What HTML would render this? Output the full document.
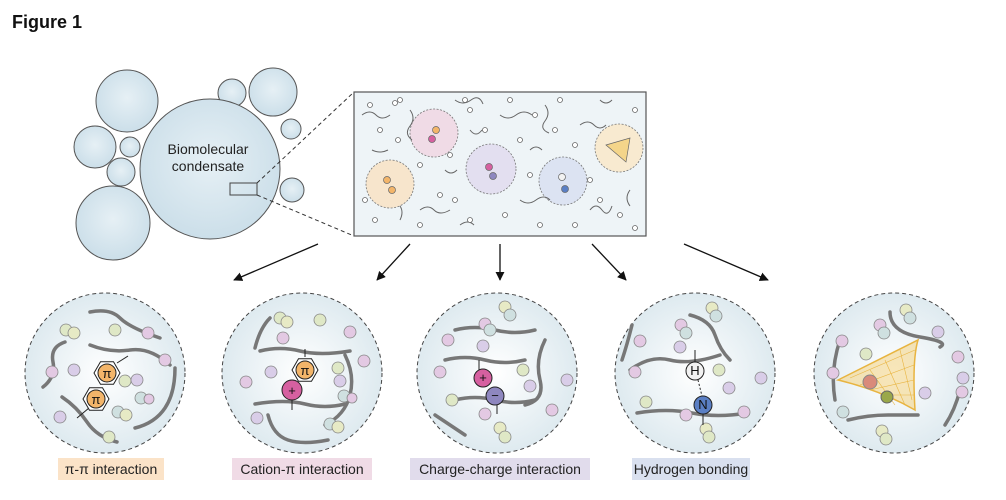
<!DOCTYPE html>
<html><head><meta charset="utf-8"><style>
html,body{margin:0;padding:0;background:#fff;width:1006px;height:500px;overflow:hidden}
svg text{font-family:"Liberation Sans",sans-serif}
</style></head><body>
<svg width="1006" height="500" viewBox="0 0 1006 500" xmlns="http://www.w3.org/2000/svg">
<defs>
<radialGradient id="bl" cx="50%" cy="45%" r="60%"><stop offset="0" stop-color="#e6f0f5"/><stop offset="1" stop-color="#c9dde8"/></radialGradient>
<radialGradient id="bc" cx="50%" cy="50%" r="55%"><stop offset="0" stop-color="#ffffff"/><stop offset="1" stop-color="#dbe8ee"/></radialGradient>
<marker id="ar" viewBox="0 0 10 10" refX="9" refY="5" markerWidth="7" markerHeight="7" orient="auto"><path d="M0,0L10,5L0,10z" fill="#111"/></marker>
</defs>
<text x="12" y="28" font-size="18" font-weight="bold" fill="#111">Figure 1</text>
<g fill="url(#bl)" stroke="#555" stroke-width="1">
<circle cx="127" cy="101" r="31"/><circle cx="232" cy="93" r="14"/><circle cx="273" cy="92" r="24"/>
<circle cx="291" cy="129" r="10"/><circle cx="95" cy="147" r="21"/><circle cx="130" cy="147" r="10"/>
<circle cx="121" cy="172" r="14"/><circle cx="113" cy="223" r="37"/><circle cx="292" cy="190" r="12"/>
<circle cx="210" cy="169" r="70"/>
</g>
<text x="208" y="154" font-size="14" text-anchor="middle" fill="#222">Biomolecular</text>
<text x="208" y="171" font-size="14" text-anchor="middle" fill="#222">condensate</text>
<rect x="230" y="183" width="27" height="12" fill="none" stroke="#444"/>
<g stroke="#333" stroke-dasharray="4,3" fill="none"><line x1="257" y1="183" x2="354" y2="92"/><line x1="257" y1="195" x2="354" y2="236"/></g>
<rect x="354" y="92" width="292" height="144" fill="#eef4f7" stroke="#555" stroke-width="1.2"/>
<g stroke="#777" stroke-dasharray="2,1.5" stroke-width="0.8">
<circle cx="390" cy="184" r="24" fill="#f7e5cc"/><circle cx="434" cy="133" r="24" fill="#f0dbe6"/>
<circle cx="491" cy="169" r="25" fill="#e3dff0"/><circle cx="563" cy="181" r="24" fill="#dce3f2"/>
<circle cx="619" cy="148" r="24" fill="#f8ead0"/>
</g>
<g stroke="#666" stroke-width="0.7">
<circle cx="387" cy="180" r="3.5" fill="#f3b56a"/><circle cx="392" cy="190" r="3.5" fill="#f3b56a"/>
<circle cx="436" cy="130" r="3.5" fill="#f3b56a"/><circle cx="432" cy="139" r="3.5" fill="#d660a0"/>
<circle cx="489" cy="167" r="3.5" fill="#d660a0"/><circle cx="493" cy="176" r="3.5" fill="#8e87bf"/>
<circle cx="562" cy="177" r="3.5" fill="#f2f2f2"/><circle cx="565" cy="189" r="3.5" fill="#5a7fc4"/>
<path d="M606,145 L630,138 L626,162Z" fill="#f4d58a"/>
</g>
<g fill="none" stroke="#666" stroke-width="1">
<path d="M362,115q8,-6 14,0t14,0"/><path d="M410,110q6,8 0,16t2,14"/><path d="M455,100q8,6 16,0t12,4"/><path d="M500,115q8,6 16,0t16,0"/><path d="M545,105q6,8 0,16t4,12"/><path d="M580,125q8,-6 14,0t12,0"/><path d="M372,150q8,4 16,0"/><path d="M420,210q8,-6 14,0t16,0"/><path d="M470,130q6,8 12,0"/><path d="M520,200q8,6 16,0t14,0"/><path d="M590,210q6,-8 12,0t10,-4"/><path d="M400,220q4,-8 0,-14"/><path d="M630,190q-6,8 0,16"/><path d="M460,225q8,-6 14,0"/><path d="M600,100q6,6 12,0"/><path d="M530,150q6,-6 12,0"/><path d="M445,170q6,6 12,0"/>
</g>
<g fill="#fff" stroke="#666" stroke-width="0.8">
<circle cx="370" cy="105" r="2.5"/><circle cx="395" cy="103" r="2.5"/><circle cx="400" cy="100" r="2.5"/><circle cx="380" cy="130" r="2.5"/><circle cx="398" cy="140" r="2.5"/><circle cx="420" cy="165" r="2.5"/><circle cx="465" cy="100" r="2.5"/><circle cx="470" cy="110" r="2.5"/><circle cx="485" cy="130" r="2.5"/><circle cx="510" cy="100" r="2.5"/><circle cx="520" cy="140" r="2.5"/><circle cx="535" cy="115" r="2.5"/><circle cx="555" cy="130" r="2.5"/><circle cx="560" cy="100" r="2.5"/><circle cx="575" cy="145" r="2.5"/><circle cx="590" cy="180" r="2.5"/><circle cx="600" cy="200" r="2.5"/><circle cx="620" cy="215" r="2.5"/><circle cx="635" cy="110" r="2.5"/><circle cx="455" cy="200" r="2.5"/><circle cx="470" cy="220" r="2.5"/><circle cx="505" cy="215" r="2.5"/><circle cx="540" cy="225" r="2.5"/><circle cx="420" cy="225" r="2.5"/><circle cx="365" cy="200" r="2.5"/><circle cx="375" cy="220" r="2.5"/><circle cx="440" cy="195" r="2.5"/><circle cx="530" cy="175" r="2.5"/><circle cx="575" cy="225" r="2.5"/><circle cx="635" cy="228" r="2.5"/><circle cx="450" cy="155" r="2.5"/>
</g>
<g stroke="#111" stroke-width="1.3" marker-end="url(#ar)">
<line x1="318" y1="244" x2="234" y2="280"/><line x1="410" y1="244" x2="377" y2="280"/><line x1="500" y1="244" x2="500" y2="280"/><line x1="592" y1="244" x2="626" y2="280"/><line x1="684" y1="244" x2="768" y2="280"/>
</g>
<g fill="url(#bc)" stroke="#444" stroke-dasharray="4,3" stroke-width="1">
<circle cx="105" cy="373" r="80"/><circle cx="302" cy="373" r="80"/><circle cx="497" cy="373" r="80"/><circle cx="695" cy="373" r="80"/><circle cx="894" cy="373" r="80"/>
</g>
<g fill="none" stroke="#777" stroke-width="3.5" stroke-linecap="round">
<path d="M90,312q20,-4 30,6t40,20"/><path d="M90,345q20,8 40,5t40,15"/><path d="M65,342q-15,5 -12,20t-10,25"/><path d="M62,397q15,10 25,25t30,20"/><path d="M135,428q20,-5 30,-20t10,-40"/>
<path d="M270,318q-10,10 -15,30"/><path d="M260,351q20,-5 40,0t50,0"/><path d="M255,404q30,-5 50,0t40,0"/><path d="M268,415q5,20 20,25t40,0"/><path d="M345,355q10,20 5,40t-25,30"/>
<path d="M455,330q20,-5 40,0t40,0"/><path d="M445,360q20,-5 40,0t40,0"/><path d="M455,400q20,-5 40,0t40,0"/><path d="M435,415q15,10 30,20"/><path d="M545,340q-10,20 -5,40t-15,25"/>
<path d="M632,325q-5,20 -10,35"/><path d="M630,370q20,-15 40,-10t50,-5"/><path d="M637,413q30,-5 55,0t55,0"/><path d="M690,315q20,5 25,20t15,25"/>
<path d="M840,340q-10,30 -5,60"/><path d="M848,420q20,-5 40,-5t30,0"/><path d="M960,390q-5,20 -15,35"/><path d="M890,312q0,20 30,25t20,10"/>
</g>
<g stroke="#888" stroke-width="0.8">
<circle cx="66" cy="330" r="6" fill="#dfe8c6"/><circle cx="74" cy="333" r="6" fill="#e7eac5"/><circle cx="115" cy="330" r="6" fill="#dfe8c6"/><circle cx="148" cy="333" r="6" fill="#e3c9e3"/><circle cx="52" cy="372" r="6" fill="#e3c9e3"/><circle cx="74" cy="370" r="6" fill="#d9cde8"/><circle cx="125" cy="381" r="6" fill="#dfe8c6"/><circle cx="137" cy="380" r="6" fill="#d9cde8"/><circle cx="141" cy="398" r="6" fill="#cfe0e0"/><circle cx="149" cy="399" r="5" fill="#e3c9e3"/><circle cx="118" cy="412" r="6" fill="#cfe0e0"/><circle cx="126" cy="415" r="6" fill="#e7eac5"/><circle cx="60" cy="417" r="6" fill="#d9cde8"/><circle cx="109" cy="437" r="6" fill="#dfe8c6"/><circle cx="165" cy="360" r="6" fill="#e3c9e3"/>
<circle cx="280" cy="318" r="6" fill="#dfe8c6"/><circle cx="287" cy="322" r="6" fill="#e7eac5"/><circle cx="320" cy="320" r="6" fill="#dfe8c6"/><circle cx="283" cy="338" r="6" fill="#e3c9e3"/><circle cx="350" cy="332" r="6" fill="#e3c9e3"/><circle cx="246" cy="382" r="6" fill="#e3c9e3"/><circle cx="271" cy="372" r="6" fill="#d9cde8"/><circle cx="338" cy="368" r="6" fill="#dfe8c6"/><circle cx="340" cy="381" r="6" fill="#d9cde8"/><circle cx="344" cy="396" r="6" fill="#cfe0e0"/><circle cx="352" cy="398" r="5" fill="#e3c9e3"/><circle cx="257" cy="418" r="6" fill="#d9cde8"/><circle cx="330" cy="424" r="6" fill="#cfe0e0"/><circle cx="338" cy="427" r="6" fill="#e7eac5"/><circle cx="364" cy="361" r="6" fill="#e3c9e3"/>
<circle cx="505" cy="307" r="6" fill="#e7eac5"/><circle cx="510" cy="315" r="6" fill="#cfe0e0"/><circle cx="485" cy="324" r="6" fill="#e3c9e3"/><circle cx="490" cy="330" r="6" fill="#cfe0e0"/><circle cx="448" cy="340" r="6" fill="#e3c9e3"/><circle cx="483" cy="346" r="6" fill="#d9cde8"/><circle cx="440" cy="372" r="6" fill="#e3c9e3"/><circle cx="523" cy="370" r="6" fill="#dfe8c6"/><circle cx="530" cy="386" r="6" fill="#d9cde8"/><circle cx="567" cy="380" r="6" fill="#d9cde8"/><circle cx="452" cy="400" r="6" fill="#dfe8c6"/><circle cx="485" cy="414" r="6" fill="#e3c9e3"/><circle cx="500" cy="428" r="6" fill="#e7eac5"/><circle cx="505" cy="437" r="6" fill="#dfe8c6"/><circle cx="552" cy="410" r="6" fill="#e3c9e3"/>
<circle cx="712" cy="308" r="6" fill="#e7eac5"/><circle cx="716" cy="316" r="6" fill="#cfe0e0"/><circle cx="681" cy="325" r="6" fill="#e3c9e3"/><circle cx="686" cy="333" r="6" fill="#cfe0e0"/><circle cx="640" cy="341" r="6" fill="#e3c9e3"/><circle cx="680" cy="347" r="6" fill="#d9cde8"/><circle cx="635" cy="372" r="6" fill="#e3c9e3"/><circle cx="719" cy="370" r="6" fill="#dfe8c6"/><circle cx="729" cy="388" r="6" fill="#d9cde8"/><circle cx="761" cy="378" r="6" fill="#d9cde8"/><circle cx="646" cy="402" r="6" fill="#dfe8c6"/><circle cx="686" cy="415" r="6" fill="#e3c9e3"/><circle cx="706" cy="429" r="6" fill="#e7eac5"/><circle cx="709" cy="437" r="6" fill="#dfe8c6"/><circle cx="744" cy="412" r="6" fill="#e3c9e3"/>
<circle cx="906" cy="310" r="6" fill="#e7eac5"/><circle cx="910" cy="318" r="6" fill="#cfe0e0"/><circle cx="880" cy="325" r="6" fill="#e3c9e3"/><circle cx="884" cy="333" r="6" fill="#cfe0e0"/><circle cx="938" cy="332" r="6" fill="#d9cde8"/><circle cx="842" cy="341" r="6" fill="#e3c9e3"/><circle cx="866" cy="354" r="6" fill="#dfe8c6"/><circle cx="958" cy="357" r="6" fill="#e3c9e3"/><circle cx="833" cy="373" r="6" fill="#e3c9e3"/><circle cx="963" cy="378" r="6" fill="#d9cde8"/><circle cx="962" cy="392" r="6" fill="#e3c9e3"/><circle cx="925" cy="393" r="6" fill="#d9cde8"/><circle cx="843" cy="412" r="6" fill="#cfe0e0"/><circle cx="882" cy="431" r="6" fill="#e7eac5"/><circle cx="886" cy="439" r="6" fill="#dfe8c6"/>
</g>
<path d="M838,380 L918,340 Q912,360 915,410 Q880,390 838,380Z" fill="#f4d58a" fill-opacity="0.6" stroke="#e8b440" stroke-width="1.5"/>
<g stroke="#e8b440" stroke-width="0.6"><line x1="850" y1="378" x2="915" y2="350"/><line x1="860" y1="385" x2="914" y2="365"/><line x1="870" y1="390" x2="914" y2="380"/><line x1="880" y1="395" x2="915" y2="395"/><line x1="870" y1="370" x2="895" y2="405"/><line x1="885" y1="360" x2="905" y2="405"/><line x1="900" y1="350" x2="912" y2="400"/></g>
<circle cx="870" cy="382" r="7" fill="#d98a7a" stroke="#888"/><circle cx="887" cy="397" r="6" fill="#9aa84a" stroke="#666"/>
<g stroke="#222" stroke-width="1">
<line x1="117" y1="363" x2="128" y2="356"/><line x1="89" y1="408" x2="77" y2="418"/>
<polygon points="94,373 100.5,361.7 113.5,361.7 120,373 113.5,384.3 100.5,384.3" fill="#fff"/><circle cx="107" cy="373" r="9" fill="#f3b56a"/>
<polygon points="83,399 89.5,387.7 102.5,387.7 109,399 102.5,410.3 89.5,410.3" fill="#fff"/><circle cx="96" cy="399" r="9" fill="#f3b56a"/>
<line x1="305" y1="349" x2="305" y2="357"/><line x1="292" y1="399" x2="292" y2="410"/>
<polygon points="292,370 298.5,358.7 311.5,358.7 318,370 311.5,381.3 298.5,381.3" fill="#fff"/><circle cx="305" cy="370" r="9" fill="#f3b56a"/>
<circle cx="292" cy="390" r="10" fill="#d660a0"/>
<line x1="479" y1="360" x2="479" y2="372"/><line x1="497" y1="404" x2="497" y2="414"/>
<circle cx="483" cy="378" r="9" fill="#d660a0"/><circle cx="495" cy="396" r="9" fill="#8e87bf"/>
<line x1="695" y1="350" x2="695" y2="362"/><line x1="703" y1="414" x2="703" y2="425"/>
<line x1="698" y1="380" x2="702" y2="396" stroke-dasharray="2,2"/>
<circle cx="695" cy="371" r="9" fill="#f2f2f2"/><circle cx="703" cy="405" r="9" fill="#5a7fc4"/>
</g>
<g font-size="13" text-anchor="middle" fill="#111">
<text x="107" y="378" font-family="Liberation Serif">π</text><text x="96" y="404" font-family="Liberation Serif">π</text>
<text x="305" y="375" font-family="Liberation Serif">π</text><text x="292" y="395">+</text>
<text x="483" y="382">+</text><text x="495" y="400">−</text>
<text x="695" y="375">H</text><text x="703" y="409">N</text>
</g>
<g font-size="14" text-anchor="middle" fill="#222">
<rect x="58" y="458" width="106" height="22" fill="#fbe3c8"/><text x="111" y="474">π-π interaction</text>
<rect x="232" y="458" width="140" height="22" fill="#f0dbe6"/><text x="302" y="474">Cation-π interaction</text>
<rect x="410" y="458" width="180" height="22" fill="#e1dcec"/><text x="500" y="474">Charge-charge interaction</text>
<rect x="632" y="458" width="118" height="22" fill="#d9e0ef"/><text x="691" y="474">Hydrogen bonding</text>
</g>
</svg>
</body></html>
